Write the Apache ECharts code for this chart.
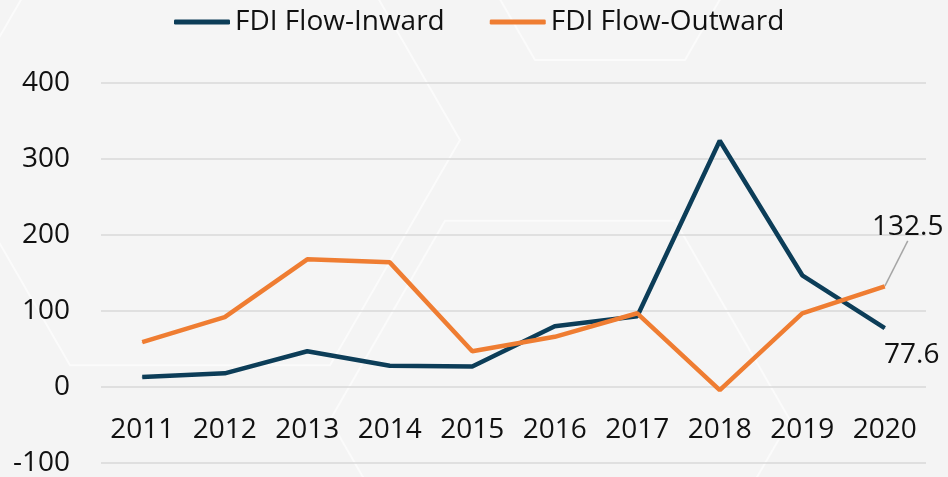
<!DOCTYPE html>
<html>
<head>
<meta charset="utf-8">
<script src="https://cdn.jsdelivr.net/npm/echarts@6/dist/echarts.min.js"></script>
<style>
  html, body { margin: 0; padding: 0; background: #f4f4f4; }
  #chart { width: 948px; height: 477px; }
</style>
</head>
<body>
<div id="chart"></div>
<script>
// 年份
const years = ['2011', '2012', '2013', '2014', '2015', '2016', '2017', '2018', '2019', '2020']
// FDI 流入 / 流出
const inward = [13, 18, 47, 28, 27, 80, 93, 324, 147, 77.6]
const outward = [59, 92, 168, 164, 47, 66, 97, -4, 97, 132.5]
const seriesNames = ['FDI Flow-Inward', 'FDI Flow-Outward']

const navy = '#0c3d58'
const orange = '#ef7d32'
const font = 'Open Sans'

const chart = echarts.init(document.getElementById('chart'))

// only the last point gets a label
function withLastLabel(values, label) {
  return values.map((v, i) => (i === values.length - 1 ? { value: v, label: label } : v))
}

// faint hexagon outlines in the background
function hexagon(cx, cy, r) {
  const pts = []
  for (let k = 0; k < 6; k++) {
    const a = Math.PI / 3 * k
    pts.push([cx + r * Math.cos(a), cy + r * Math.sin(a)])
  }
  return {
    type: 'polygon',
    silent: true,
    z: -10,
    shape: { points: pts },
    style: { fill: 'rgba(255,255,255,0.15)', stroke: '#ffffff', lineWidth: 2, opacity: 0.6 }
  }
}

const option = {
  backgroundColor: '#f4f4f4',
  animation: false,
  graphic: [
    hexagon(610, -70, 150),
    hexagon(200, 140, 260),
    hexagon(560, 420, 230)
  ],
  legend: {
    top: 8,
    left: 174,
    padding: 0,
    itemWidth: 56,
    itemHeight: 5,
    itemGap: 45,
    icon: 'roundRect',
    textStyle: { fontFamily: font, fontSize: 28, color: '#111' },
    data: seriesNames
  },
  grid: { left: 101, right: 22, top: 83, bottom: 14, containLabel: false, outerBoundsMode: 'none' },
  xAxis: {
    type: 'category',
    data: years,
    boundaryGap: true,
    offset: -76,
    axisLine: { show: false, onZero: false },
    axisTick: { show: false },
    axisLabel: { interval: 0, hideOverlap: false, fontFamily: font, fontSize: 28, color: '#111', margin: 29 }
  },
  yAxis: {
    type: 'value',
    min: -100,
    max: 400,
    interval: 100,
    axisLine: { show: false },
    axisTick: { show: false },
    axisLabel: { fontFamily: font, fontSize: 28, color: '#111', margin: 31 },
    splitLine: { lineStyle: { color: '#d9d9d9', width: 1.5 } }
  },
  series: [
    {
      name: seriesNames[0],
      type: 'line',
      symbol: 'circle',
      symbolSize: 1,
      lineStyle: { width: 4.5, color: navy },
      itemStyle: { color: navy },
      data: withLastLabel(inward, {
        show: true,
        position: 'bottom',
        offset: [27, 8],
        fontFamily: font,
        fontSize: 28,
        color: '#111'
      })
    },
    {
      name: seriesNames[1],
      type: 'line',
      symbol: 'circle',
      symbolSize: 1,
      lineStyle: { width: 4.5, color: orange },
      itemStyle: { color: orange },
      labelLine: { show: true, lineStyle: { color: '#a6a6a6', width: 1.5 } },
      labelLayout: { dx: 23, dy: -40 },
      data: withLastLabel(outward, {
        show: true,
        position: 'top',
        fontFamily: font,
        fontSize: 28,
        color: '#111'
      })
    }
  ]
}

chart.setOption(option)
</script>
</body>
</html>
